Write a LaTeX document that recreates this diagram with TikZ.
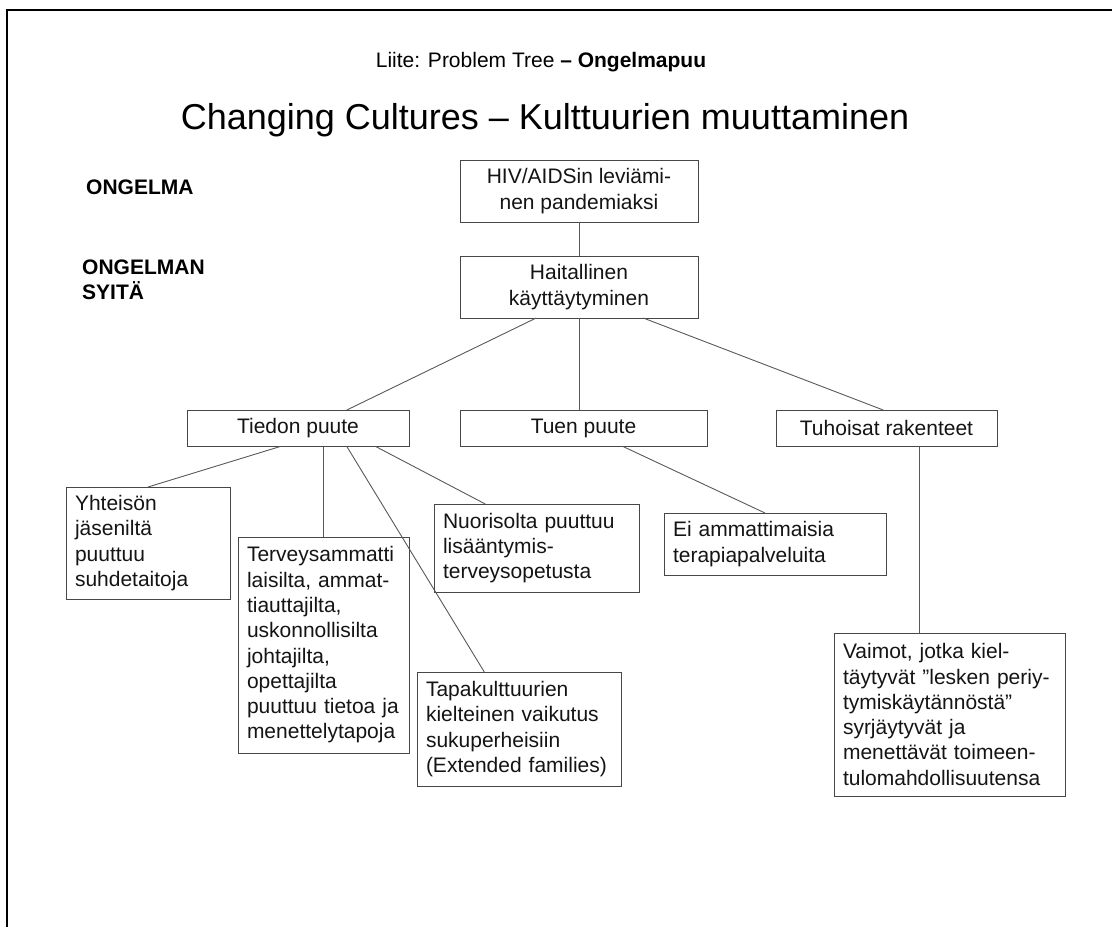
\documentclass[tikz,border=0pt]{standalone}
\usepackage{fontspec}
\setmainfont{Liberation Sans}
\usetikzlibrary{calc}

\begin{document}
\begin{tikzpicture}[x=1pt,y=-1pt,
  box/.style={draw=black!72, line width=0.9pt, inner xsep=9pt, inner ysep=2pt,
    outer sep=0pt, text=black!92, font=\fontsize{21}{25.3}\selectfont},
  lbox/.style={box, anchor=north west, align=left},
  cbox/.style={box, anchor=north west, align=center},
  conn/.style={draw=black!65, line width=0.9pt},
  head/.style={inner sep=0pt, anchor=west, align=left,
    font=\fontsize{21}{25}\selectfont\bfseries}]
  \useasboundingbox (0,0) rectangle (1112,927);

  %% Frame of the slide
  \draw[line width=1.8pt] (7,927) -- (7,10) -- (1112,10);

  %% Titles
  \node (liite) at (541,62) {\fontsize{21}{25}\selectfont Liite: Problem Tree \textbf{– Ongelmapuu}};
  \node (title) at (545,120) {\fontsize{36}{40}\selectfont Changing Cultures – Kulttuurien muuttaminen};

  %% Row labels
  \node[head] (ongelma) at (86,187) {ONGELMA};
  \node[head] (syita) at (82,279.5) {ONGELMAN\\SYITÄ};

  %% Problem and main cause
  \node[cbox, minimum width=238, minimum height=62] (hiv) at (460,160)
    {HIV/AIDSin leviämi-\\nen pandemiaksi};
  \node[cbox, minimum width=238, minimum height=62] (hait) at (460,256)
    {Haitallinen\\käyttäytyminen};

  %% Second level
  \foreach \nm/\xa/\xb/\txt in {tiedon/187/409/Tiedon puute,
                               tuen/460/707/Tuen puute,
                               tuhoisat/776/997/Tuhoisat rakenteet}
  {
    \node[cbox, minimum width=\xb-\xa, minimum height=36.5] (\nm) at (\xa,410) {\txt};
  }

  %% Third level
  \node[lbox, text width=146, minimum height=112] (yhteiso) at (66,487)
    {Yhteisön\\jäseniltä\\puuttuu\\suhdetaitoja};
  \node[lbox, text width=153, minimum height=216] (terveys) at (238,537)
    {Terveysammatti\\laisilta, ammat-\\tiauttajilta,\\uskonnollisilta\\johtajilta,\\opettajilta\\puuttuu tietoa ja\\menettelytapoja};
  \node[lbox, text width=187, minimum height=88] (nuoriso) at (434,504)
    {Nuorisolta puuttuu\\lisääntymis-\\terveysopetusta};
  \node[lbox, text width=186, minimum height=114] (tapa) at (417,672)
    {Tapakulttuurien\\kielteinen vaikutus\\sukuperheisiin\\(Extended families)};
  \node[lbox, text width=204, minimum height=62] (ei) at (664,513)
    {Ei ammattimaisia\\terapiapalveluita};
  \node[lbox, text width=213, minimum height=163] (vaimot) at (834,633)
    {Vaimot, jotka kiel-\\täytyvät ”lesken periy-\\tymiskäytännöstä”\\syrjäytyvät ja\\menettävät toimeen-\\tulomahdollisuutensa};

  %% Connectors
  \draw[conn] (hiv.south) -- (hait.north);
  \draw[conn] ($(hait.south west)!0.32!(hait.south east)$) -- ($(tiedon.north west)!0.72!(tiedon.north east)$);
  \draw[conn] (hait.south) -- (hait.south |- tuen.north);
  \draw[conn] ($(hait.south west)!0.77!(hait.south east)$) -- ($(tuhoisat.north west)!0.485!(tuhoisat.north east)$);
  \draw[conn] ($(tiedon.south west)!0.42!(tiedon.south east)$) -- (yhteiso.north);
  \draw[conn] (terveys.north) -- (terveys.north |- tiedon.south);
  \draw[conn] ($(tiedon.south west)!0.72!(tiedon.south east)$) -- ($(tapa.north west)!0.33!(tapa.north east)$);
  \draw[conn] ($(tiedon.south west)!0.85!(tiedon.south east)$) -- ($(nuoriso.north west)!0.25!(nuoriso.north east)$);
  \draw[conn] ($(tuen.south west)!0.66!(tuen.south east)$) -- ($(ei.north west)!0.455!(ei.north east)$);
  \coordinate (vtop) at ($(vaimot.north west)!0.37!(vaimot.north east)$);
  \draw[conn] (vtop) -- (vtop |- tuhoisat.south);

\end{tikzpicture}
\end{document}
